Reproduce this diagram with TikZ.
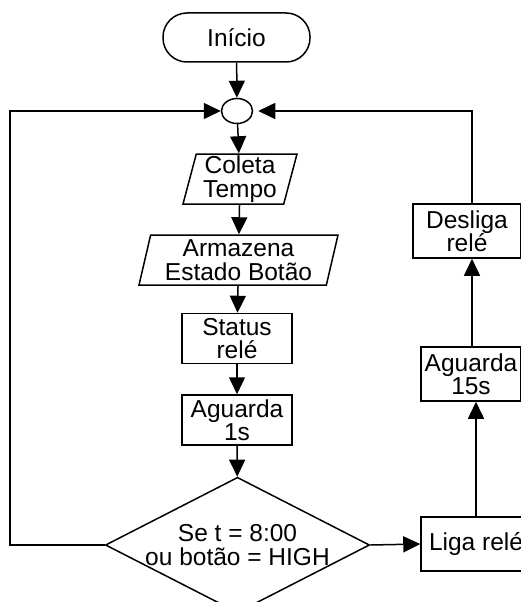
\documentclass[tikz,border=0pt]{standalone}
\usepackage{fontspec}
\setmainfont{Liberation Sans}
\usetikzlibrary{shapes,shapes.geometric,arrows.meta,positioning,calc}

\begin{document}
\begin{tikzpicture}[
    x=1pt, y=-1pt,
    line width=1.5pt,
    every node/.style={draw, font=\fontsize{24.5}{23.5}\selectfont, align=center, inner sep=0pt},
    term/.style={rectangle, rounded corners=24pt, minimum width=147pt, minimum height=49pt},
    junct/.style={ellipse, minimum width=31pt, minimum height=25pt},
    io/.style={trapezium, trapezium left angle=74, trapezium right angle=106, trapezium stretches body, minimum height=50pt},
    proc/.style={rectangle, minimum height=50pt},
    decision/.style={diamond, aspect=1.95, minimum width=249pt, minimum height=128pt},
    flow/.style={-{Triangle[length=17pt,width=16pt]}}
]
\clip (0,0) rectangle (521,602);
\useasboundingbox (0,0) rectangle (521,602);

% main column
\node[term] (inicio) at (236.5,37.5) {Início};
\node[junct] (junc) at (237,111) {};
\node[io, minimum width=114pt] (coleta) at (240,179) {Coleta\\Tempo};
\node[io, minimum width=199pt] (armazena) at (238.5,260) {Armazena\\Estado Botão};
\node[proc, minimum width=110pt] (status) at (237,338.5) {Status\\relé};
\node[proc, minimum width=110pt] (aguarda1) at (237,420) {Aguarda\\1s};
\node[decision] (teste) at (237.5,545) {Se t = 8:00\\ou botão = HIGH};

% right column
\node[proc, minimum width=110pt, minimum height=54pt] (liga) at (476,544) {Liga relé};
\node[proc, minimum width=100pt, minimum height=54pt] (aguarda15) at (471,374) {Aguarda\\15s};
\node[proc, minimum width=108pt, minimum height=54pt] (desliga) at (467,231) {Desliga\\relé};

\coordinate (volta) at (10,545);
\coordinate (topo) at (472,111);

\draw[flow] (inicio) -- (junc);
\draw[flow] (junc) -- (coleta);
\draw[flow] (coleta) -- (armazena);
\draw[flow] (armazena) -- (status);
\draw[flow] (status) -- (aguarda1);
\draw[flow] (aguarda1) -- (teste);
\draw[flow] (teste.west) -- (volta) |- (junc.west);
\draw[flow] (teste.east) -- (liga.west);
\draw[flow] (liga.north) -- (liga.north |- aguarda15.south);
\draw[flow] (aguarda15.north -| topo) -- (topo |- desliga.south);
\draw[flow, shorten >=5pt] (topo |- desliga.north) -- (topo) -- (junc.east);
\end{tikzpicture}
\end{document}
